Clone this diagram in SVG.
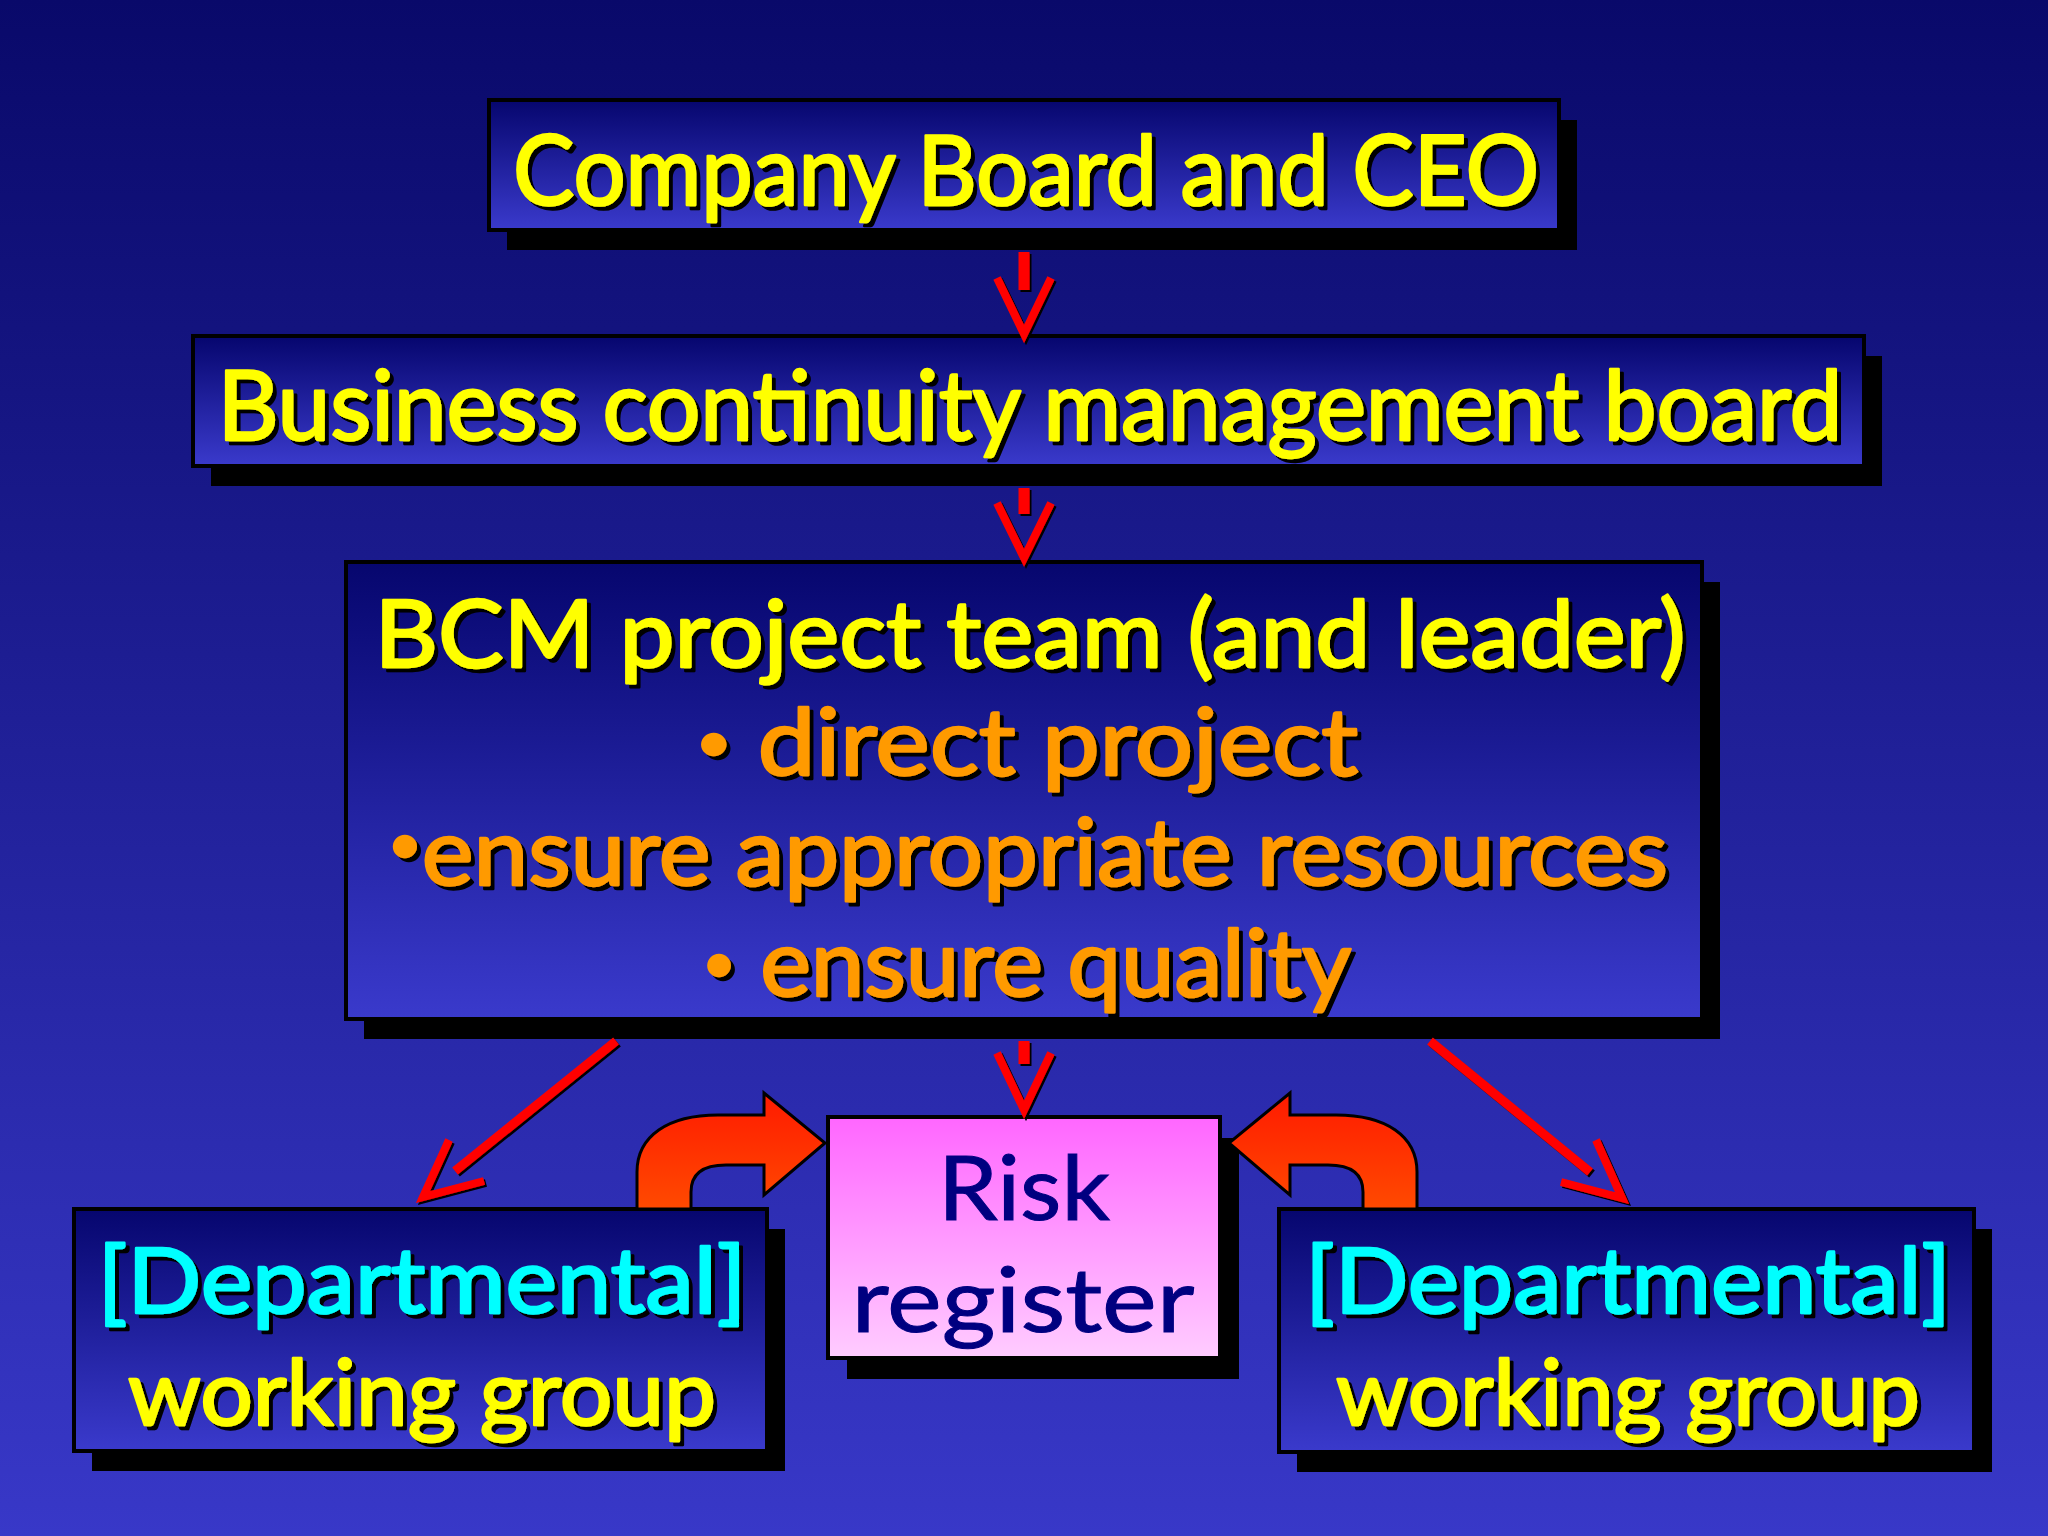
<svg xmlns="http://www.w3.org/2000/svg" width="2048" height="1536" viewBox="0 0 2048 1536">
<defs>
  <linearGradient id="bg" x1="0" y1="0" x2="0" y2="1">
    <stop offset="0" stop-color="#09096a"/>
    <stop offset="1" stop-color="#3838c8"/>
  </linearGradient>
  <linearGradient id="boxg" x1="0" y1="0" x2="0" y2="1">
    <stop offset="0" stop-color="#06066e"/>
    <stop offset="1" stop-color="#3a3acc"/>
  </linearGradient>
  <linearGradient id="pinkg" x1="0" y1="0" x2="0" y2="1">
    <stop offset="0" stop-color="#ff66ff"/>
    <stop offset="1" stop-color="#ffccff"/>
  </linearGradient>
  <linearGradient id="curveg" x1="0" y1="0" x2="0" y2="1">
    <stop offset="0" stop-color="#ff1a00"/>
    <stop offset="1" stop-color="#ff4a00"/>
  </linearGradient>
  <filter id="ts" x="-5%" y="-20%" width="110%" height="140%">
    <feDropShadow dx="4" dy="4" stdDeviation="0" flood-color="#000000"/>
  </filter>
  <filter id="as" filterUnits="userSpaceOnUse" x="0" y="0" width="2048" height="1536">
    <feDropShadow dx="2" dy="2" stdDeviation="0" flood-color="#000000"/>
  </filter>
  <path id="curve" d="M637,1209 L637,1172 C637,1136 668,1115 718,1115 L764,1115 L764,1093 L825,1143 L764,1195 L764,1165 L726,1165 C704,1165 691,1173 691,1192 L691,1209 Z"/>
</defs>
<style>
  .box { fill: url(#boxg); stroke: #000; stroke-width: 4; }
  .shadow { fill: #000; }
  .t { font-family: "Lato", "Liberation Sans", sans-serif; font-weight: 400; text-anchor: middle; stroke-width: 2.5; stroke-linejoin: round; filter: url(#ts); }
  .yel { fill: #ffff00; stroke: #ffff00; }
  .org { fill: #ff9a00; stroke: #ff9a00; }
  .cyan { fill: #00ffff; stroke: #00ffff; }
  .navy { fill: #000080; stroke: #000080; stroke-width: 1; font-family: "Lato", "Liberation Sans", sans-serif; font-weight: 400; text-anchor: middle; }
  .shaft { stroke: #ff0000; stroke-width: 11; fill: none; filter: url(#as); }
  .line { stroke: #ff0000; stroke-width: 9; fill: none; filter: url(#as); }
  .head { stroke: #ff0000; stroke-width: 8; fill: none; stroke-linejoin: miter; filter: url(#as); }
  .curve { fill: url(#curveg); stroke: #000; stroke-width: 3; }
</style>
<rect x="0" y="0" width="2048" height="1536" fill="url(#bg)"/>

<g id="node-company-board">
  <rect class="shadow" x="507" y="120" width="1070" height="130"/>
  <rect class="box" x="489" y="100" width="1070" height="130"/>
  <text class="t yel" x="1026" y="205" font-size="96" textLength="1026" lengthAdjust="spacingAndGlyphs">Company Board and CEO</text>
</g>

<g id="node-bcm-board">
  <rect class="shadow" x="211" y="356" width="1671" height="130"/>
  <rect class="box" x="193" y="336" width="1671" height="130"/>
  <text class="t yel" x="1030" y="440" font-size="96" textLength="1625" lengthAdjust="spacingAndGlyphs">Business continuity management board</text>
</g>

<g id="node-bcm-team">
  <rect class="shadow" x="364" y="582" width="1356" height="457"/>
  <rect class="box" x="346" y="562" width="1356" height="457"/>
  <text class="t yel" x="1030" y="667" font-size="94" textLength="1311" lengthAdjust="spacingAndGlyphs">BCM project team (and leader)</text>
  <text class="t org" x="1027" y="775" font-size="94" textLength="662" lengthAdjust="spacingAndGlyphs"><tspan font-size="56" dy="-14">•</tspan><tspan dy="14"> direct project</tspan></text>
  <text class="t org" x="1028" y="885" font-size="94" textLength="1280" lengthAdjust="spacingAndGlyphs"><tspan font-size="56" dy="-22">•</tspan><tspan dy="22">ensure appropriate resources</tspan></text>
  <text class="t org" x="1027" y="996" font-size="94" textLength="649" lengthAdjust="spacingAndGlyphs"><tspan font-size="56" dy="-14">•</tspan><tspan dy="14"> ensure quality</tspan></text>
</g>

<g id="node-risk-register">
  <rect class="shadow" x="847" y="1138" width="392" height="241"/>
  <rect x="828" y="1117" width="392" height="241" fill="url(#pinkg)" stroke="#000" stroke-width="4"/>
  <text class="navy" x="1024" y="1220" font-size="90" textLength="172" lengthAdjust="spacingAndGlyphs">Risk</text>
  <text class="navy" x="1023" y="1332" font-size="90" textLength="343" lengthAdjust="spacingAndGlyphs">register</text>
</g>

<g id="node-dept-left">
  <rect class="shadow" x="92" y="1229" width="693" height="242"/>
  <rect class="box" x="74" y="1209" width="693" height="242"/>
  <text class="t cyan" x="422" y="1313" font-size="92" textLength="649" lengthAdjust="spacingAndGlyphs">[Departmental]</text>
  <text class="t yel" x="422" y="1425" font-size="92" textLength="588" lengthAdjust="spacingAndGlyphs">working group</text>
</g>

<g id="node-dept-right">
  <rect class="shadow" x="1297" y="1229" width="695" height="243"/>
  <rect class="box" x="1279" y="1209" width="695" height="243"/>
  <text class="t cyan" x="1628" y="1313" font-size="92" textLength="646" lengthAdjust="spacingAndGlyphs">[Departmental]</text>
  <text class="t yel" x="1628" y="1425" font-size="92" textLength="584" lengthAdjust="spacingAndGlyphs">working group</text>
</g>

<g id="connectors">
  <line class="shaft" x1="1024" y1="252" x2="1024" y2="290"/>
  <polyline class="head" points="997,278 1024,334 1051,278"/>
  <line class="shaft" x1="1024" y1="488" x2="1024" y2="514"/>
  <polyline class="head" points="997,503 1024,558 1051,503"/>
  <line class="shaft" x1="1024" y1="1041" x2="1024" y2="1064"/>
  <polyline class="head" points="997,1053 1024,1110 1051,1053"/>
  <line class="line" x1="616" y1="1041" x2="455" y2="1171"/>
  <polyline class="head" points="484,1181 423,1197 449,1140"/>
  <line class="line" x1="1430" y1="1041" x2="1590" y2="1172"/>
  <polyline class="head" points="1561,1182 1622,1198 1596,1140"/>
  <use href="#curve" class="curve"/>
  <use href="#curve" class="curve" transform="translate(2054,0) scale(-1,1)"/>
</g>
</svg>
